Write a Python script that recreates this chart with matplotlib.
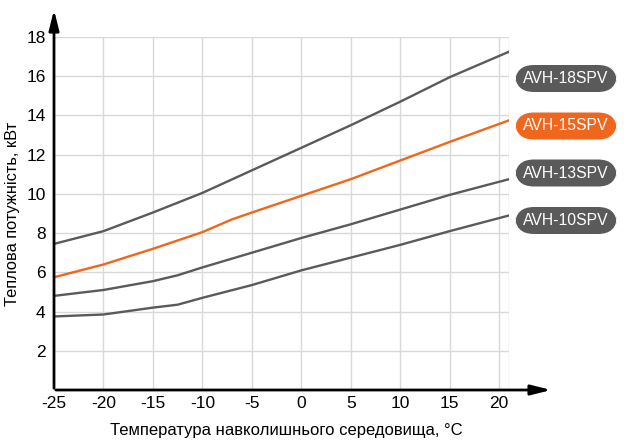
import matplotlib.pyplot as plt
from matplotlib.patches import FancyBboxPatch

plt.rcParams['font.family'] = ['Liberation Sans', 'DejaVu Sans']
plt.rcParams['axes.unicode_minus'] = False

# значення
temp_18 = [-25, -20, -15, -10, -5, 0, 5, 10, 15, 21]
power_18 = [7.45, 8.1, 9.05, 10.05, 11.2, 12.35, 13.5, 14.7, 15.95, 17.25]

temp_15 = [-25, -20, -15, -10, -7, -5, 0, 5, 10, 15, 21]
power_15 = [5.75, 6.4, 7.2, 8.05, 8.7, 9.05, 9.9, 10.75, 11.7, 12.65, 13.75]

temp_13 = [-25, -20, -15, -12.5, -10, -5, 0, 5, 10, 15, 21]
power_13 = [4.8, 5.1, 5.55, 5.85, 6.25, 7.0, 7.75, 8.45, 9.2, 9.95, 10.75]

temp_10 = [-25, -20, -15, -12.5, -10, -5, 0, 5, 10, 15, 21]
power_10 = [3.75, 3.85, 4.2, 4.35, 4.7, 5.35, 6.1, 6.75, 7.4, 8.1, 8.9]

models = ["AVH-18SPV", "AVH-15SPV", "AVH-13SPV", "AVH-10SPV"]
x_ticks = [-25, -20, -15, -10, -5, 0, 5, 10, 15, 20]
y_ticks = [2, 4, 6, 8, 10, 12, 14, 16, 18]

gray = "#5a5a5a"
orange = "#f0661c"

fig = plt.figure(figsize=(6.29, 4.48), dpi=100)
W, H = 629, 448
ax = fig.add_axes([54 / W, 1 - 390 / H, (509 - 54) / W, (390 - 37) / H])
ax.set_xlim(-25, 21)
ax.set_ylim(0, 18)

# сітка
for x in x_ticks[1:] + [21]:
    ax.axvline(x, color="#d9d9d9", lw=1, zorder=0)
for y in y_ticks:
    ax.axhline(y, color="#d9d9d9", lw=1, zorder=0)

ax.plot(temp_18, power_18, color=gray, lw=1.7)
ax.plot(temp_15, power_15, color=orange, lw=1.7)
ax.plot(temp_13, power_13, color=gray, lw=1.7)
ax.plot(temp_10, power_10, color=gray, lw=1.7)

for s in ax.spines.values():
    s.set_visible(False)
ax.set_xticks(x_ticks)
ax.set_yticks(y_ticks)
ax.tick_params(length=0, labelsize=12.5)
ax.tick_params(axis="x", pad=4)
ax.tick_params(axis="y", pad=6)

# осі зі стрілками
ax.annotate("", xy=(554 / W, 1 - 390 / H), xytext=(53 / W, 1 - 390 / H),
            xycoords="figure fraction",
            arrowprops=dict(arrowstyle="-|>,head_length=1.2,head_width=0.3", color="black", lw=2))
ax.annotate("", xy=(54 / W, 1 - 7 / H), xytext=(54 / W, 1 - 391 / H),
            xycoords="figure fraction",
            arrowprops=dict(arrowstyle="-|>,head_length=1.2,head_width=0.3", color="black", lw=2))

fig.text(286 / W, 1 - 430 / H, "Температура навколишнього середовища, °С",
         ha="center", va="center", fontsize=12)
fig.text(13 / W, 1 - 214 / H, "Теплова потужність, кВт", rotation=90,
         ha="center", va="center", fontsize=11.8)

# підписи моделей
centers = [78.5, 126, 173, 220.5]
colors = [gray, orange, gray, gray]
for name, cy, c in zip(models, centers, colors):
    box = FancyBboxPatch((515 / W, 1 - (cy + 13.5) / H), 102 / W, 27 / H,
                         boxstyle="round,pad=0,rounding_size=0.03",
                         transform=fig.transFigure, facecolor=c, edgecolor="none",
                         mutation_aspect=W / H)
    fig.patches.append(box)
    fig.text(566 / W, 1 - cy / H, name, color="white", ha="center", va="center",
             fontsize=11.3)

fig.savefig("out.png", dpi=100)
